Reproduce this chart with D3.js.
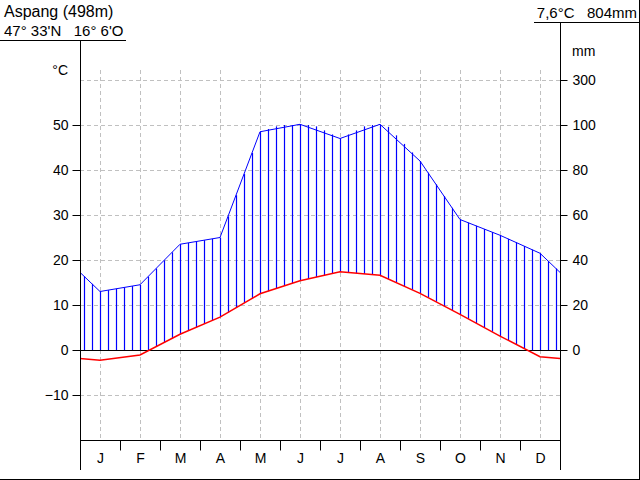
<!DOCTYPE html>
<html lang="de">
<head>
<meta charset="utf-8" />
<title>Klimadiagramm Aspang</title>
<script src="https://cdn.jsdelivr.net/npm/d3@7/dist/d3.min.js"></script>
<style>
    body { margin: 0; background: #fff; }
    svg { display: block; font-family: "Liberation Sans", Arial, sans-serif; font-size: 14px; }
    .grid { stroke: #c0c0c0; stroke-dasharray: 4,3; shape-rendering: crispEdges; }
    .frame { stroke: #000; shape-rendering: crispEdges; }
</style>
</head>
<body>
<svg id="chart" width="640" height="480"></svg>
<script>
// station data
const stationName = "Aspang (498m)";
const stationCoords = "47° 33'N   16° 6'O";
const stationSummary = "7,6°C   804mm";

const months = ["J", "F", "M", "A", "M", "J", "J", "A", "S", "O", "N", "D"];
const temperature = [-2.3, -1.1, 3.5, 7.3, 12.5, 15.4, 17.4, 16.6, 12.6, 7.9, 3.1, -1.5];
const precipitation = [26, 29, 47, 50, 97, 103, 94, 103, 84, 58, 51, 43];

const tempTicks = [-10, 0, 10, 20, 30, 40, 50];
const precipTicks = [0, 20, 40, 60, 80, 100, 300];
const gridTemps = [-10, 10, 20, 30, 40, 50, 60];

const svg = d3.select("#chart");

// scales: 10 °C = 20 mm up to 100 mm, then compressed
const x = d3.scaleLinear().domain([0, 12]).range([80, 560]);
const yT = d3.scaleLinear().domain([-20, 50]).range([440, 125]);
const yP = d3.scaleLinear().domain([0, 100, 300]).range([350, 125, 80]);

// month centres plus wrap-around points at both edges
function extend(values) {
    const edge = (values[0] + values[11]) / 2;
    const pts = [[0, edge]];
    values.forEach((v, i) => pts.push([i + 0.5, v]));
    pts.push([12, edge]);
    return pts;
}
const tempPts = extend(temperature);
const precipPts = extend(precipitation);

function interp(pts, m) {
    for (let i = 0; i < pts.length - 1; i++) {
        const a = pts[i], b = pts[i + 1];
        if (m >= a[0] && m <= b[0]) {
            const t = (m - a[0]) / (b[0] - a[0]);
            return a[1] + t * (b[1] - a[1]);
        }
    }
    return pts[pts.length - 1][1];
}

// grid
svg.append("g").selectAll("line")
    .data(gridTemps)
    .join("line")
    .attr("class", "grid")
    .attr("x1", x(0)).attr("x2", x(12))
    .attr("y1", d => Math.round(yT(d)) + 0.5).attr("y2", d => Math.round(yT(d)) + 0.5);

svg.append("g").selectAll("line")
    .data(months)
    .join("line")
    .attr("class", "grid")
    .attr("x1", (d, i) => x(i + 0.5) + 0.5).attr("x2", (d, i) => x(i + 0.5) + 0.5)
    .attr("y1", 70).attr("y2", 440);

// solid fill above 100 mm: region under the precipitation curve, clipped above the 100 mm line
svg.append("clipPath").attr("id", "underPrecip")
    .append("path")
    .datum(precipPts)
    .attr("d", d3.area().x(d => x(d[0])).y0(yT(-20)).y1(d => yP(d[1])));

svg.append("rect")
    .attr("clip-path", "url(#underPrecip)")
    .attr("fill", "#0000ff")
    .attr("x", x(0)).attr("width", x(12) - x(0))
    .attr("y", yP(300)).attr("height", yP(100) - yP(300));

// humid hatching between temperature and precipitation
const hatch = d3.range(60).map(k => {
    const m = 0.1 + 0.2 * k;
    return { m, t: interp(tempPts, m), p: interp(precipPts, m) };
}).filter(d => yP(Math.min(d.p, 100)) < yT(Math.max(d.t, 0)));

svg.append("g").selectAll("line")
    .data(hatch)
    .join("line")
    .attr("stroke", "#0000ff")
    .attr("stroke-width", 1.2)
    .attr("x1", d => x(d.m) + 0.5).attr("x2", d => x(d.m) + 0.5)
    .attr("y1", d => yT(Math.max(d.t, 0)))
    .attr("y2", d => yP(Math.min(d.p, 100)));

// zero line
svg.append("line")
    .attr("class", "frame")
    .attr("x1", x(0)).attr("x2", x(12))
    .attr("y1", yT(0) + 0.5).attr("y2", yT(0) + 0.5);

// curves
svg.append("path")
    .datum(precipPts)
    .attr("fill", "none")
    .attr("stroke", "#0000ff")
    .attr("stroke-width", 1)
    .attr("d", d3.line().x(d => x(d[0])).y(d => yP(d[1])));

svg.append("path")
    .datum(tempPts)
    .attr("fill", "none")
    .attr("stroke", "#ff0000")
    .attr("stroke-width", 1.5)
    .attr("d", d3.line().x(d => x(d[0])).y(d => yT(d[1])));

// axes
const leftAxis = svg.append("g")
    .attr("transform", "translate(80.5,0)")
    .call(d3.axisLeft(yT).tickValues(tempTicks).tickSize(8).tickPadding(4));
const rightAxis = svg.append("g")
    .attr("transform", "translate(560.5,0)")
    .call(d3.axisRight(yP).tickValues(precipTicks).tickSize(7).tickPadding(5));
[leftAxis, rightAxis].forEach(g => {
    g.select(".domain").remove();
    g.selectAll("text").attr("font-size", 14).attr("font-family", null).attr("fill", "#000");
    g.selectAll("line").attr("stroke", "#000");
});

const xAxis = svg.append("g")
    .attr("transform", "translate(0,440.5)")
    .call(d3.axisBottom(x).tickValues(d3.range(1, 12)).tickSize(10).tickFormat(""));
xAxis.select(".domain").remove();
xAxis.selectAll("line").attr("stroke", "#000");

svg.append("line").attr("class", "frame")
    .attr("x1", x(0)).attr("x2", x(12)).attr("y1", 440.5).attr("y2", 440.5);

svg.append("g").selectAll("text")
    .data(months)
    .join("text")
    .attr("x", (d, i) => x(i + 0.5) + 0.5)
    .attr("y", 463)
    .attr("text-anchor", "middle")
    .text(d => d);

// vertical axis lines and frame
svg.append("line").attr("class", "frame").attr("x1", 80.5).attr("x2", 80.5).attr("y1", 40).attr("y2", 470);
svg.append("line").attr("class", "frame").attr("x1", 560.5).attr("x2", 560.5).attr("y1", 22).attr("y2", 470);
svg.append("line").attr("class", "frame").attr("x1", 0).attr("x2", 126).attr("y1", 40.5).attr("y2", 40.5);
svg.append("line").attr("class", "frame").attr("x1", 534).attr("x2", 640).attr("y1", 22.5).attr("y2", 22.5);
svg.append("line").attr("class", "frame").attr("x1", 639.5).attr("x2", 639.5).attr("y1", 0).attr("y2", 480);
svg.append("line").attr("class", "frame").attr("x1", 0).attr("x2", 640).attr("y1", 479.5).attr("y2", 479.5);

// labels
svg.append("text").attr("x", 4).attr("y", 17).attr("font-size", 16).text(stationName);
svg.append("text").attr("x", 4).attr("y", 36).attr("font-size", 15)
    .style("white-space", "pre").text(stationCoords);
svg.append("text").attr("x", 637).attr("y", 18).attr("font-size", 15)
    .attr("text-anchor", "end").style("white-space", "pre").text(stationSummary);
svg.append("text").attr("x", 68).attr("y", 75).attr("text-anchor", "end").text("°C");
svg.append("text").attr("x", 572).attr("y", 56).text("mm");
</script>
</body>
</html>
